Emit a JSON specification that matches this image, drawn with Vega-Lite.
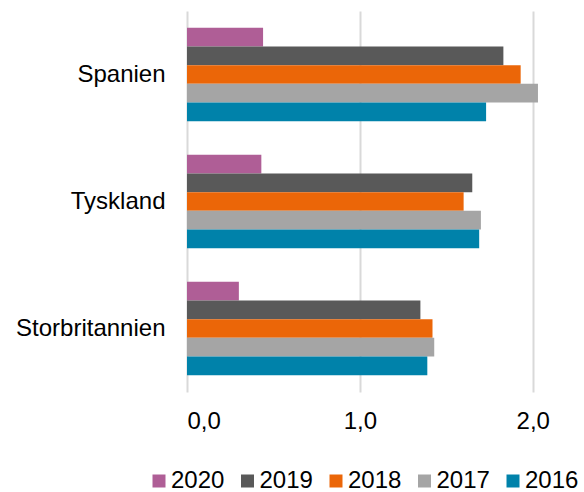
{
  "$schema": "https://vega.github.io/schema/vega-lite/v6.json",
  "autosize": {"type": "none"},
  "width": 389,
  "height": 381,
  "padding": {"left": 187, "top": 11, "right": 8, "bottom": 100},
  "background": "white",
  "config": {
    "view": {"stroke": null},
    "font": "Liberation Sans"
  },
  "data": {
    "values": [
      {"land": "Spanien", "year": "2020", "value": 0.44},
      {"land": "Spanien", "year": "2019", "value": 1.83},
      {"land": "Spanien", "year": "2018", "value": 1.93},
      {"land": "Spanien", "year": "2017", "value": 2.03},
      {"land": "Spanien", "year": "2016", "value": 1.73},
      {"land": "Tyskland", "year": "2020", "value": 0.43},
      {"land": "Tyskland", "year": "2019", "value": 1.65},
      {"land": "Tyskland", "year": "2018", "value": 1.60},
      {"land": "Tyskland", "year": "2017", "value": 1.70},
      {"land": "Tyskland", "year": "2016", "value": 1.69},
      {"land": "Storbritannien", "year": "2020", "value": 0.30},
      {"land": "Storbritannien", "year": "2019", "value": 1.35},
      {"land": "Storbritannien", "year": "2018", "value": 1.42},
      {"land": "Storbritannien", "year": "2017", "value": 1.43},
      {"land": "Storbritannien", "year": "2016", "value": 1.39}
    ]
  },
  "mark": {"type": "bar"},
  "encoding": {
    "y": {
      "field": "land",
      "type": "nominal",
      "sort": ["Spanien", "Tyskland", "Storbritannien"],
      "scale": {"paddingInner": 0.264, "paddingOuter": 0.132},
      "axis": {
        "title": null,
        "ticks": false,
        "domain": false,
        "labelPadding": 22,
        "labelFontSize": 24,
        "labelColor": "#000000",
        "labelFont": "Liberation Sans"
      }
    },
    "yOffset": {
      "field": "year",
      "type": "nominal",
      "sort": ["2020", "2019", "2018", "2017", "2016"],
      "scale": {"paddingInner": 0, "paddingOuter": 0}
    },
    "x": {
      "field": "value",
      "type": "quantitative",
      "scale": {"domain": [0, 2.25], "nice": false},
      "axis": {
        "title": null,
        "values": [0, 1, 2],
        "labelExpr": "replace(format(datum.value, '.1f'), '.', ',')",
        "ticks": false,
        "domain": false,
        "grid": true,
        "gridColor": "#D9D9D9",
        "gridWidth": 2,
        "labelPadding": 17,
        "labelFontSize": 24,
        "labelColor": "#000000",
        "labelFont": "Liberation Sans"
      }
    },
    "color": {
      "field": "year",
      "type": "nominal",
      "sort": ["2020", "2019", "2018", "2017", "2016"],
      "scale": {
        "domain": ["2020", "2019", "2018", "2017", "2016"],
        "range": ["#AF5E96", "#595959", "#EB6608", "#A5A5A5", "#0082AA"]
      },
      "legend": {
        "title": null,
        "orient": "none",
        "direction": "horizontal",
        "legendX": -40,
        "legendY": 458,
        "columns": 5,
        "symbolType": "square",
        "symbolSize": 169,
        "symbolStrokeWidth": 0,
        "symbolOffset": 0,
        "labelFontSize": 24,
        "labelColor": "#000000",
        "labelFont": "Liberation Sans",
        "labelOffset": 0,
        "columnPadding": 10.5
      }
    }
  }
}
